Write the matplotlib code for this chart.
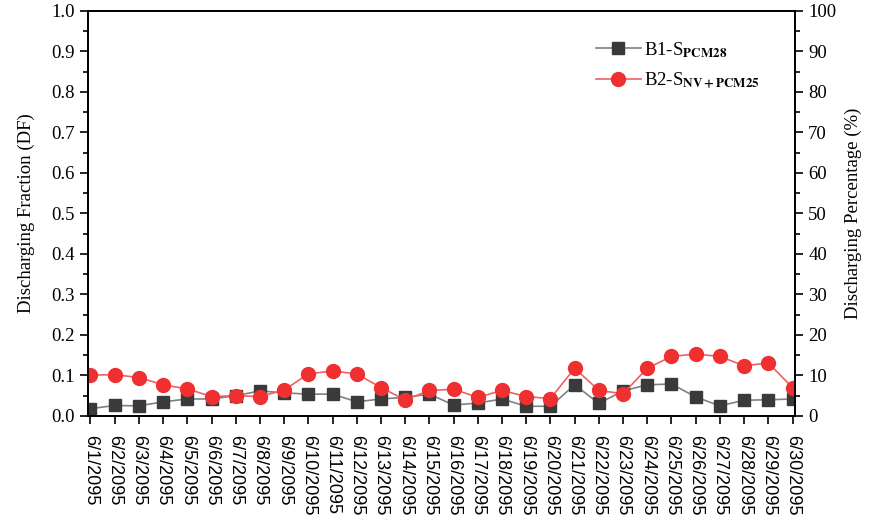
import numpy as np
import matplotlib.pyplot as plt
from matplotlib.ticker import MultipleLocator

#Data
dates = ["6/%d/2095" % d for d in range(1, 31)]
b1_pcm28 = [0.018, 0.026, 0.025, 0.035, 0.042, 0.042, 0.050, 0.062, 0.057, 0.054,
            0.054, 0.035, 0.042, 0.046, 0.054, 0.027, 0.032, 0.042, 0.024, 0.024,
            0.077, 0.031, 0.062, 0.077, 0.079, 0.047, 0.025, 0.039, 0.040, 0.042]
b2_nv_pcm25 = [0.101, 0.102, 0.095, 0.077, 0.067, 0.048, 0.050, 0.048, 0.064, 0.104,
               0.111, 0.104, 0.070, 0.040, 0.063, 0.066, 0.046, 0.063, 0.048, 0.043,
               0.118, 0.063, 0.055, 0.118, 0.147, 0.153, 0.147, 0.124, 0.131, 0.070]

plt.rcParams['font.family'] = ['Liberation Serif', 'DejaVu Serif']
plt.rcParams['mathtext.fontset'] = 'stix'

fig = plt.figure(figsize=(8.76, 5.23), dpi=100)
ax = fig.add_axes([0.1005, 0.2046, 0.807, 0.7744])
x = np.arange(len(dates))

ax.plot(x, b1_pcm28, color='#808080', lw=1.2, marker='s', ms=8,
        mfc='#3a3a3a', mec='#3a3a3a', label=r'B1-S$_{\mathbf{PCM28}}$', zorder=3)
ax.plot(x, b2_nv_pcm25, color='#f06060', lw=1.2, marker='o', ms=10,
        mfc='#f03030', mec='#f03030', label=r'B2-S$_{\mathbf{NV+PCM25}}$', zorder=4)

ax.set_xlim(-0.1, 29.1)
ax.set_ylim(0, 1.0)
ax.yaxis.set_major_locator(MultipleLocator(0.1))
ax.yaxis.set_minor_locator(MultipleLocator(0.05))
ax.set_xticks(x)
ax.set_xticklabels(dates, rotation=-90, family='Liberation Sans', fontsize=13)
ax.set_ylabel("Discharging Fraction (DF)", fontsize=13.5, labelpad=12)
ax.tick_params(axis='y', which='major', labelsize=13.5, length=6, width=1.2, direction='out')
ax.tick_params(axis='y', which='minor', length=3.5, width=1.2, direction='out')
ax.tick_params(axis='x', which='major', length=6, width=1.2, direction='out', pad=8)
for s in ax.spines.values():
    s.set_linewidth(1.3)

ax2 = ax.twinx()
ax2.set_ylim(0, 100)
ax2.yaxis.set_major_locator(MultipleLocator(10))
ax2.yaxis.set_minor_locator(MultipleLocator(5))
ax2.tick_params(axis='y', which='major', labelsize=13.5, length=6, width=1.2, direction='out')
ax2.tick_params(axis='y', which='minor', length=3.5, width=1.2, direction='out')
ax2.set_ylabel("Discharging Percentage (%)", fontsize=13.5, labelpad=6)
for s in ax2.spines.values():
    s.set_linewidth(1.3)

ax.legend(loc='upper right', bbox_to_anchor=(0.975, 0.97), frameon=False,
          fontsize=13.5, handlelength=2.4, handletextpad=0.2, labelspacing=0.6)

fig.savefig("out.png", dpi=100)
